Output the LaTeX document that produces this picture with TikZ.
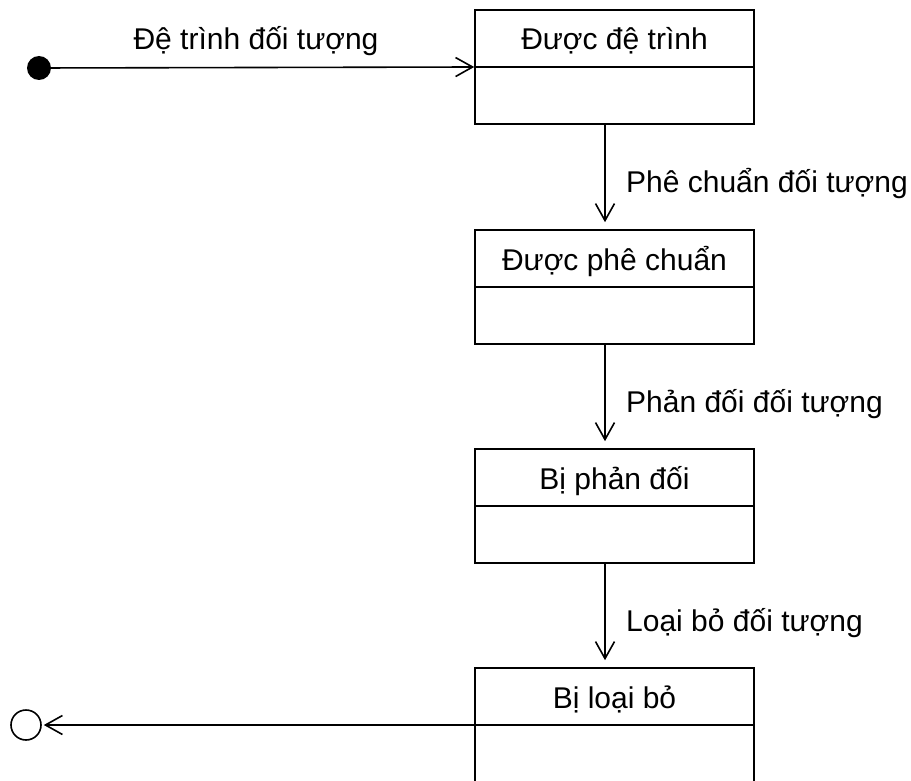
\documentclass[tikz,border=0pt]{standalone}
\usepackage{fontspec}
\setmainfont{Liberation Sans}
\usetikzlibrary{arrows.meta}

\begin{document}
\begin{tikzpicture}[x=1pt, y=-1pt,
  every node/.style={font=\fontsize{30}{36}\selectfont, inner sep=0pt},
  statebox/.style={draw, line width=1.6pt, minimum width=279pt, minimum height=114pt},
  divider/.style={line width=1.6pt},
  title/.style={anchor=base},
  trans/.style={line width=1.6pt, -{Straight Barb[length=17pt, width=19pt, line width=1.6pt]}},
  translabel/.style={anchor=base west},
  initstate/.style={circle, fill=black, minimum size=24pt},
  finalstate/.style={circle, draw, line width=1.6pt, minimum size=30pt}
]
\useasboundingbox (0,0) rectangle (911,781);
\clip (0,0) rectangle (911,781);

% states
\node[statebox] (s1) at (614.5,67) {};
\node[statebox] (s2) at (614.5,287) {};
\node[statebox] (s3) at (614.5,506) {};
\node[statebox] (s4) at (614.5,725) {};

\foreach \s in {s1,s2,s3,s4}
  \draw[divider] (\s.west) -- (\s.east);

\node[title] (t1) at (614.5,50) {Được đệ trình};
\node[title] (t2) at (614.5,270) {Được phê chuẩn};
\node[title] (t3) at (614.5,489) {Bị phản đối};
\node[title] (t4) at (614.5,708) {Bị loại bỏ};

% pseudo-states
\node[initstate] (init) at (39,68) {};
\node[finalstate] (final) at (26,725) {};

% transitions
\draw[trans] (init) -- (s1.west);
\node[anchor=base] (l0) at (256,50) {Đệ trình đối tượng};

\draw[trans, shorten >=7pt] (s1.south -| 605,0) -- (s2.north -| 605,0);
\node[translabel] (l1) at (626,193) {Phê chuẩn đối tượng};

\draw[trans, shorten >=7pt] (s2.south -| 605,0) -- (s3.north -| 605,0);
\node[translabel] (l2) at (626,412) {Phản đối đối tượng};

\draw[trans, shorten >=7pt] (s3.south -| 605,0) -- (s4.north -| 605,0);
\node[translabel] (l3) at (626,631) {Loại bỏ đối tượng};

\draw[trans, shorten >=2pt] (s4.west) -- (final);
\end{tikzpicture}
\end{document}
